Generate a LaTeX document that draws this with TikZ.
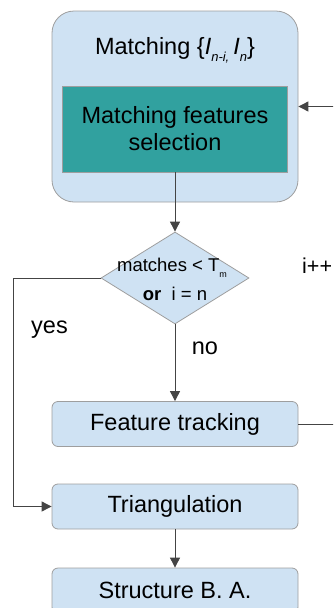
\documentclass[tikz,border=0pt]{standalone}
\usepackage{fontspec}
\setmainfont{Liberation Sans}
\usetikzlibrary{arrows.meta,shapes.geometric}
\definecolor{boxblue}{HTML}{CFE2F3}
\definecolor{boxgray}{HTML}{9E9E9E}
\definecolor{tealsel}{HTML}{31A19F}
\definecolor{linegray}{HTML}{444444}
\begin{document}
\begin{tikzpicture}[x=1pt,y=-1pt,
  lbl/.style={font=\fontsize{23.5}{27}\selectfont,inner sep=0pt},
  smalllbl/.style={font=\fontsize{18.5}{22}\selectfont,inner sep=0pt},
  stepbox/.style={draw=boxgray,fill=boxblue,rounded corners=6pt,minimum width=246pt,minimum height=45pt,inner sep=0pt,line width=0.8pt,lbl},
  conn/.style={draw=linegray,line width=0.9pt},
  arr/.style={conn,-{Triangle[length=10pt,width=10pt]}}]
\useasboundingbox (0,0) rectangle (333,608);
\clip (0,0) rectangle (333,608);
% outer matching box
\node[draw=boxgray,fill=boxblue,rounded corners=22pt,minimum width=246pt,minimum height=191pt,inner sep=0pt,line width=0.8pt] (outer) at (175,106.5) {};
\node[lbl] (title) at (175,50) {Matching \{\textit{I}\raisebox{-7pt}{\fontsize{13}{13}\selectfont\textit{n-i,}}\hspace{4pt}\textit{I}\raisebox{-7pt}{\fontsize{13}{13}\selectfont\textit{n}}\}};
\node[draw=boxgray,fill=tealsel,minimum width=225pt,minimum height=86pt,inner sep=0pt,align=center,line width=0.8pt,lbl] (sel) at (175,129) {Matching features\\selection};
% decision
\node[diamond,aspect=1.6,draw=boxgray,fill=boxblue,minimum width=148pt,minimum height=92pt,inner sep=0pt,line width=0.8pt] (dec) at (175,278) {};
\node[smalllbl] (d1) at (172,268) {matches < T\raisebox{-6pt}{\fontsize{9}{9}\selectfont m}};
\node[smalllbl] (d2) at (175,294) {\textbf{or}\ \ i = n};
% steps
\node[stepbox] (ft) at (175,424) {Feature tracking};
\node[stepbox] (tri) at (175,506.5) {Triangulation};
\node[stepbox] (sba) at (175,590.5) {Structure B. A.};
% labels
\node[lbl] (yes) at (49.5,330) {yes};
\node[lbl] (no) at (205,348) {no};
\node[font=\fontsize{21.5}{25}\selectfont,inner sep=0pt,anchor=west] (inc) at (302,266) {i++};
% connectors
\coordinate (yk) at (13,278);
\coordinate (lp) at (350,424);
\draw[arr] (sel.south) -- (dec.north);
\draw[arr] (dec.south) -- (ft.north);
\draw[arr] (dec.west) -- (yk) |- (tri.west);
\draw[arr] (tri.south) -- (sba.north);
\draw[arr] (ft.east) -- (lp) |- (outer.east);
\end{tikzpicture}
\end{document}
